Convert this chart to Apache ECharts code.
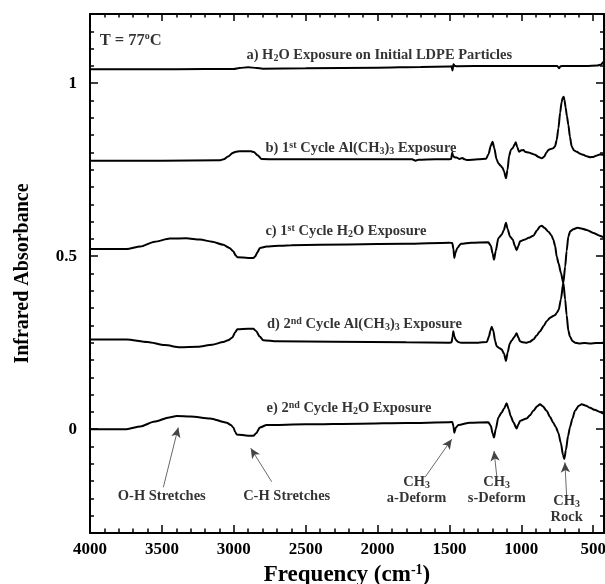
<!DOCTYPE html>
<html>
<head>
<meta charset="utf-8">
<script src="https://cdn.jsdelivr.net/npm/echarts@6/dist/echarts.min.js"></script>
<style>
  html, body { margin: 0; padding: 0; background: #fff; }
  #chart { width: 605px; height: 584px; }
</style>
</head>
<body>
<div id="chart"></div>
<script>
// ---- spectra: wavenumber (cm-1) and absorbance (offset) ----
const aCm  = [4000, 3600, 3200, 3000, 2960, 2900, 2840, 2800, 2500, 2000, 1700, 1500, 1486, 1479, 1472, 1464, 1450, 1200, 1000, 800, 750, 738, 728, 700, 550, 470, 445, 430];
const aAbs = [1.040, 1.040, 1.041, 1.041, 1.044, 1.046, 1.044, 1.042, 1.043, 1.045, 1.047, 1.048, 1.049, 1.037, 1.055, 1.050, 1.049, 1.050, 1.050, 1.050, 1.050, 1.043, 1.049, 1.050, 1.050, 1.051, 1.054, 1.062];

const bCm  = [4000, 3500, 3100, 3070, 3040, 3005, 2985, 2960, 2880, 2860, 2835, 2806, 2700, 2300, 1760, 1735, 1715, 1600, 1500, 1488, 1481, 1475, 1465, 1450, 1430, 1410, 1395, 1380, 1300, 1245, 1228, 1212, 1200, 1188, 1172, 1160, 1145, 1130, 1120, 1107, 1096, 1085, 1072, 1060, 1048, 1039, 1028, 1016, 1000, 986, 970, 950, 930, 905, 880, 858, 840, 825, 812, 795, 778, 765, 754, 742, 730, 720, 712, 706, 700, 692, 683, 673, 662, 650, 635, 615, 590, 569, 545, 522, 500, 480, 455, 430];
const bAbs = [0.776, 0.776, 0.777, 0.780, 0.788, 0.799, 0.802, 0.803, 0.803, 0.801, 0.792, 0.781, 0.780, 0.780, 0.780, 0.776, 0.779, 0.780, 0.780, 0.781, 0.799, 0.790, 0.786, 0.785, 0.781, 0.784, 0.780, 0.778, 0.780, 0.782, 0.795, 0.820, 0.831, 0.812, 0.780, 0.769, 0.762, 0.755, 0.745, 0.725, 0.750, 0.790, 0.808, 0.812, 0.822, 0.829, 0.815, 0.802, 0.806, 0.807, 0.801, 0.800, 0.797, 0.793, 0.787, 0.783, 0.788, 0.800, 0.807, 0.810, 0.812, 0.818, 0.836, 0.870, 0.915, 0.945, 0.958, 0.961, 0.952, 0.930, 0.905, 0.880, 0.845, 0.818, 0.806, 0.802, 0.796, 0.793, 0.789, 0.786, 0.787, 0.790, 0.794, 0.793];

const cCm  = [4000, 3745, 3650, 3550, 3444, 3330, 3235, 3150, 3073, 3030, 3003, 2988, 2975, 2900, 2864, 2850, 2835, 2818, 2771, 2600, 2200, 1800, 1500, 1480, 1472, 1466, 1458, 1445, 1420, 1350, 1230, 1212, 1200, 1190, 1178, 1160, 1137, 1122, 1107, 1095, 1079, 1060, 1045, 1033, 1020, 1009, 990, 975, 950, 917, 890, 870, 858, 840, 812, 790, 778, 765, 754, 740, 725, 708, 695, 685, 673, 662, 645, 627, 600, 560, 520, 480, 430];
const cAbs = [0.521, 0.521, 0.528, 0.542, 0.551, 0.552, 0.548, 0.542, 0.533, 0.524, 0.514, 0.503, 0.497, 0.495, 0.495, 0.500, 0.512, 0.524, 0.528, 0.532, 0.534, 0.536, 0.539, 0.538, 0.520, 0.495, 0.510, 0.524, 0.536, 0.539, 0.540, 0.530, 0.508, 0.490, 0.515, 0.552, 0.562, 0.575, 0.597, 0.578, 0.557, 0.548, 0.530, 0.517, 0.530, 0.543, 0.546, 0.548, 0.553, 0.559, 0.575, 0.586, 0.588, 0.582, 0.571, 0.560, 0.548, 0.530, 0.499, 0.478, 0.452, 0.423, 0.375, 0.330, 0.285, 0.268, 0.255, 0.250, 0.248, 0.249, 0.248, 0.249, 0.250];

const dCm  = [4000, 3745, 3600, 3480, 3374, 3250, 3150, 3073, 3040, 3010, 2990, 2975, 2900, 2864, 2845, 2820, 2795, 2700, 2300, 1800, 1500, 1485, 1478, 1473, 1466, 1455, 1440, 1420, 1300, 1240, 1225, 1215, 1206, 1195, 1182, 1172, 1155, 1137, 1120, 1107, 1095, 1080, 1067, 1050, 1040, 1033, 1020, 1009, 990, 963, 940, 917, 895, 870, 845, 824, 800, 778, 765, 754, 740, 725, 708, 695, 685, 673, 660, 638, 610, 592, 546, 499, 460, 430];
const dAbs = [0.259, 0.259, 0.252, 0.243, 0.237, 0.238, 0.244, 0.252, 0.257, 0.265, 0.280, 0.289, 0.290, 0.290, 0.284, 0.268, 0.257, 0.254, 0.253, 0.251, 0.250, 0.251, 0.268, 0.283, 0.268, 0.258, 0.252, 0.250, 0.250, 0.252, 0.268, 0.285, 0.296, 0.285, 0.255, 0.240, 0.235, 0.231, 0.218, 0.197, 0.222, 0.248, 0.256, 0.266, 0.272, 0.277, 0.264, 0.254, 0.251, 0.250, 0.253, 0.259, 0.270, 0.283, 0.298, 0.312, 0.322, 0.327, 0.330, 0.336, 0.345, 0.375, 0.423, 0.470, 0.515, 0.557, 0.572, 0.578, 0.582, 0.581, 0.576, 0.567, 0.560, 0.555];

const eCm  = [4000, 3745, 3650, 3550, 3450, 3397, 3300, 3165, 3049, 3020, 3003, 2990, 2980, 2900, 2864, 2845, 2818, 2771, 2500, 2122, 1800, 1500, 1480, 1472, 1466, 1455, 1438, 1357, 1230, 1212, 1200, 1190, 1178, 1160, 1137, 1120, 1102, 1088, 1074, 1055, 1033, 1020, 1009, 963, 940, 917, 890, 870, 850, 824, 800, 778, 760, 743, 725, 710, 701, 690, 675, 662, 645, 627, 600, 580, 550, 522, 490, 453, 430];
const eAbs = [0.000, 0.000, 0.008, 0.022, 0.034, 0.038, 0.037, 0.031, 0.019, 0.012, 0.005, -0.008, -0.015, -0.019, -0.019, -0.012, 0.005, 0.012, 0.014, 0.016, 0.018, 0.020, 0.021, 0.008, -0.010, 0.005, 0.012, 0.019, 0.020, 0.010, -0.012, -0.024, 0.000, 0.034, 0.048, 0.060, 0.075, 0.058, 0.038, 0.020, 0.002, 0.014, 0.024, 0.031, 0.040, 0.053, 0.066, 0.072, 0.066, 0.053, 0.035, 0.019, 0.006, -0.010, -0.040, -0.075, -0.086, -0.060, -0.020, 0.005, 0.030, 0.053, 0.068, 0.072, 0.068, 0.062, 0.056, 0.050, 0.045];

// ---- axis ticks ----
const xMajor = [4000, 3500, 3000, 2500, 2000, 1500, 1000, 500];
const xMinor = [3900, 3800, 3700, 3600, 3400, 3300, 3200, 3100, 2900, 2800, 2700, 2600, 2400, 2300, 2200, 2100, 1900, 1800, 1700, 1600, 1400, 1300, 1200, 1100, 900, 800, 700, 600];
const yMajor = [0, 0.5, 1];
const yMinor = [-0.25, -0.2, -0.15, -0.1, -0.05, 0.05, 0.1, 0.15, 0.2, 0.25, 0.3, 0.35, 0.4, 0.45, 0.55, 0.6, 0.65, 0.7, 0.75, 0.8, 0.85, 0.9, 0.95, 1.05, 1.1, 1.15];

// ---- curve captions and band annotations ----
const captions = [
  'a) H{s|2}O Exposure on Initial LDPE Particles',
  'b) 1{p|st} Cycle Al(CH{s|3}){s|3} Exposure',
  'c) 1{p|st} Cycle H{s|2}O Exposure',
  'd) 2{p|nd} Cycle Al(CH{s|3}){s|3} Exposure',
  'e) 2{p|nd} Cycle H{s|2}O Exposure',
  '{t|T = 77}{p|o}{t|C}'
];
const captionAt = [[1988, 1.081], [2115, 0.812], [2220, 0.573], [2091, 0.303], [2199, 0.060], [3717, 1.124]];

const bandNames = ['O-H Stretches', 'C-H Stretches', 'CH{s|3}\na-Deform', 'CH{s|3}\ns-Deform', 'CH{s|3}\nRock'];
const bandAt = [[3501, -0.195], [2632, -0.195], [1728, -0.176], [1171, -0.176], [685, -0.231]];
const arrowFrom = [[3490, -0.168], [2736, -0.152], [1670, -0.139], [1171, -0.135], [685, -0.192]];
const arrowTo   = [[3386, 0.005], [2882, -0.055], [1484, -0.029], [1190, -0.063], [697, -0.096]];

const FONT = "'Liberation Serif', 'Times New Roman', serif";
const zip = (xs, ys) => xs.slice(0, Math.min(xs.length, ys.length)).map((x, i) => [x, ys[i]]);

const rich = {
  s: { fontFamily: FONT, fontWeight: 'bold', fontSize: 10, lineHeight: 10, verticalAlign: 'bottom', color: '#000' },
  p: { fontFamily: FONT, fontWeight: 'bold', fontSize: 10, lineHeight: 10, verticalAlign: 'top', color: '#000' },
  t: { fontFamily: FONT, fontWeight: 'bold', fontSize: 16.5, lineHeight: 18, color: '#000' }
};

const X_MIN = 425, X_MAX = 4000;
const baseX = { type: 'value', min: X_MIN, max: X_MAX, inverse: true, splitLine: { show: false } };
const baseY = { type: 'value', min: -0.3, max: 1.2, splitLine: { show: false } };
const axLine = { show: true, onZero: false, lineStyle: { color: '#000', width: 2 } };
const noLine = { show: false, onZero: false };
const tickStyle = { color: '#000', width: 1.5 };

const xAxes = [
  Object.assign({}, baseX, {
    position: 'bottom', axisLine: axLine,
    axisTick: { inside: true, length: 8, customValues: xMajor, lineStyle: tickStyle },
    axisLabel: { customValues: xMajor, formatter: v => String(v), margin: 8, color: '#000',
                 fontFamily: FONT, fontWeight: 'bold', fontSize: 17 },
    name: 'Frequency (cm{p|-1})', nameLocation: 'middle', nameGap: 25,
    nameTextStyle: { fontFamily: FONT, fontWeight: 'bold', fontSize: 23, color: '#000', lineHeight: 25,
      rich: { p: { fontFamily: FONT, fontWeight: 'bold', fontSize: 14, lineHeight: 14, verticalAlign: 'top', color: '#000' } } }
  }),
  Object.assign({}, baseX, {
    position: 'bottom', axisLine: noLine,
    axisTick: { inside: true, length: 4.5, customValues: xMinor, lineStyle: tickStyle },
    axisLabel: { show: false }
  }),
  Object.assign({}, baseX, {
    position: 'top', axisLine: axLine,
    axisTick: { inside: true, length: 7, customValues: xMajor, lineStyle: tickStyle },
    axisLabel: { show: false }
  }),
  Object.assign({}, baseX, {
    position: 'top', axisLine: noLine,
    axisTick: { inside: true, length: 3.5, customValues: xMinor, lineStyle: tickStyle },
    axisLabel: { show: false }
  })
];

const yAxes = [
  Object.assign({}, baseY, {
    position: 'left', axisLine: axLine,
    axisTick: { inside: true, length: 8, customValues: yMajor, lineStyle: tickStyle },
    axisLabel: { customValues: yMajor, formatter: v => String(v), margin: 13, color: '#000',
                 fontFamily: FONT, fontWeight: 'bold', fontSize: 17 },
    name: 'Infrared Absorbance', nameLocation: 'middle', nameGap: 57, nameRotate: 90,
    nameTextStyle: { fontFamily: FONT, fontWeight: 'bold', fontSize: 20, color: '#000' }
  }),
  Object.assign({}, baseY, {
    position: 'left', axisLine: noLine,
    axisTick: { inside: true, length: 4, customValues: yMinor, lineStyle: tickStyle },
    axisLabel: { show: false }
  }),
  Object.assign({}, baseY, {
    position: 'right', axisLine: axLine,
    axisTick: { inside: true, length: 8, customValues: yMajor, lineStyle: tickStyle },
    axisLabel: { show: false }
  }),
  Object.assign({}, baseY, {
    position: 'right', axisLine: noLine,
    axisTick: { inside: true, length: 4, customValues: yMinor, lineStyle: tickStyle },
    axisLabel: { show: false }
  })
];

const spectra = [[aCm, aAbs], [bCm, bAbs], [cCm, cAbs], [dCm, dAbs], [eCm, eAbs]];
const lineSeries = spectra.map(([xs, ys]) => ({
  type: 'line', xAxisIndex: 0, yAxisIndex: 0,
  data: zip(xs, ys), showSymbol: false, symbol: 'none',
  smooth: 0.25, smoothMonotone: 'x',
  lineStyle: { color: '#000', width: 2 }, silent: true, z: 3
}));

const labelText = { fontFamily: FONT, fontWeight: 'bold', fontSize: 14.5, lineHeight: 16, color: '#000', rich: rich };

const option = {
  animation: false,
  backgroundColor: '#fff',
  grid: { left: 90, right: 1, top: 14, bottom: 51, containLabel: false, outerBoundsMode: 'none' },
  xAxis: xAxes,
  yAxis: yAxes,
  series: lineSeries.concat([
    {
      type: 'scatter', xAxisIndex: 0, yAxisIndex: 0, symbolSize: 0, silent: true, z: 5,
      data: captionAt.map(p => ({ value: p })),
      label: Object.assign({ show: true, position: 'inside', formatter: p => captions[p.dataIndex] }, labelText)
    },
    {
      type: 'scatter', xAxisIndex: 0, yAxisIndex: 0, symbolSize: 0, silent: true, z: 5,
      data: bandAt.map(p => ({ value: p })),
      label: Object.assign({ show: true, position: 'inside', align: 'center', formatter: p => bandNames[p.dataIndex] }, labelText),
      markLine: {
        silent: true, animation: false,
        symbol: ['none', 'arrow'], symbolSize: [7, 10],
        lineStyle: { color: '#444', width: 0.8, type: 'solid' },
        label: { show: false },
        data: arrowFrom.map((f, i) => [{ coord: f }, { coord: arrowTo[i] }])
      }
    }
  ])
};

const chart = echarts.init(document.getElementById('chart'), null, { renderer: 'canvas' });
chart.setOption(option);
</script>
</body>
</html>
